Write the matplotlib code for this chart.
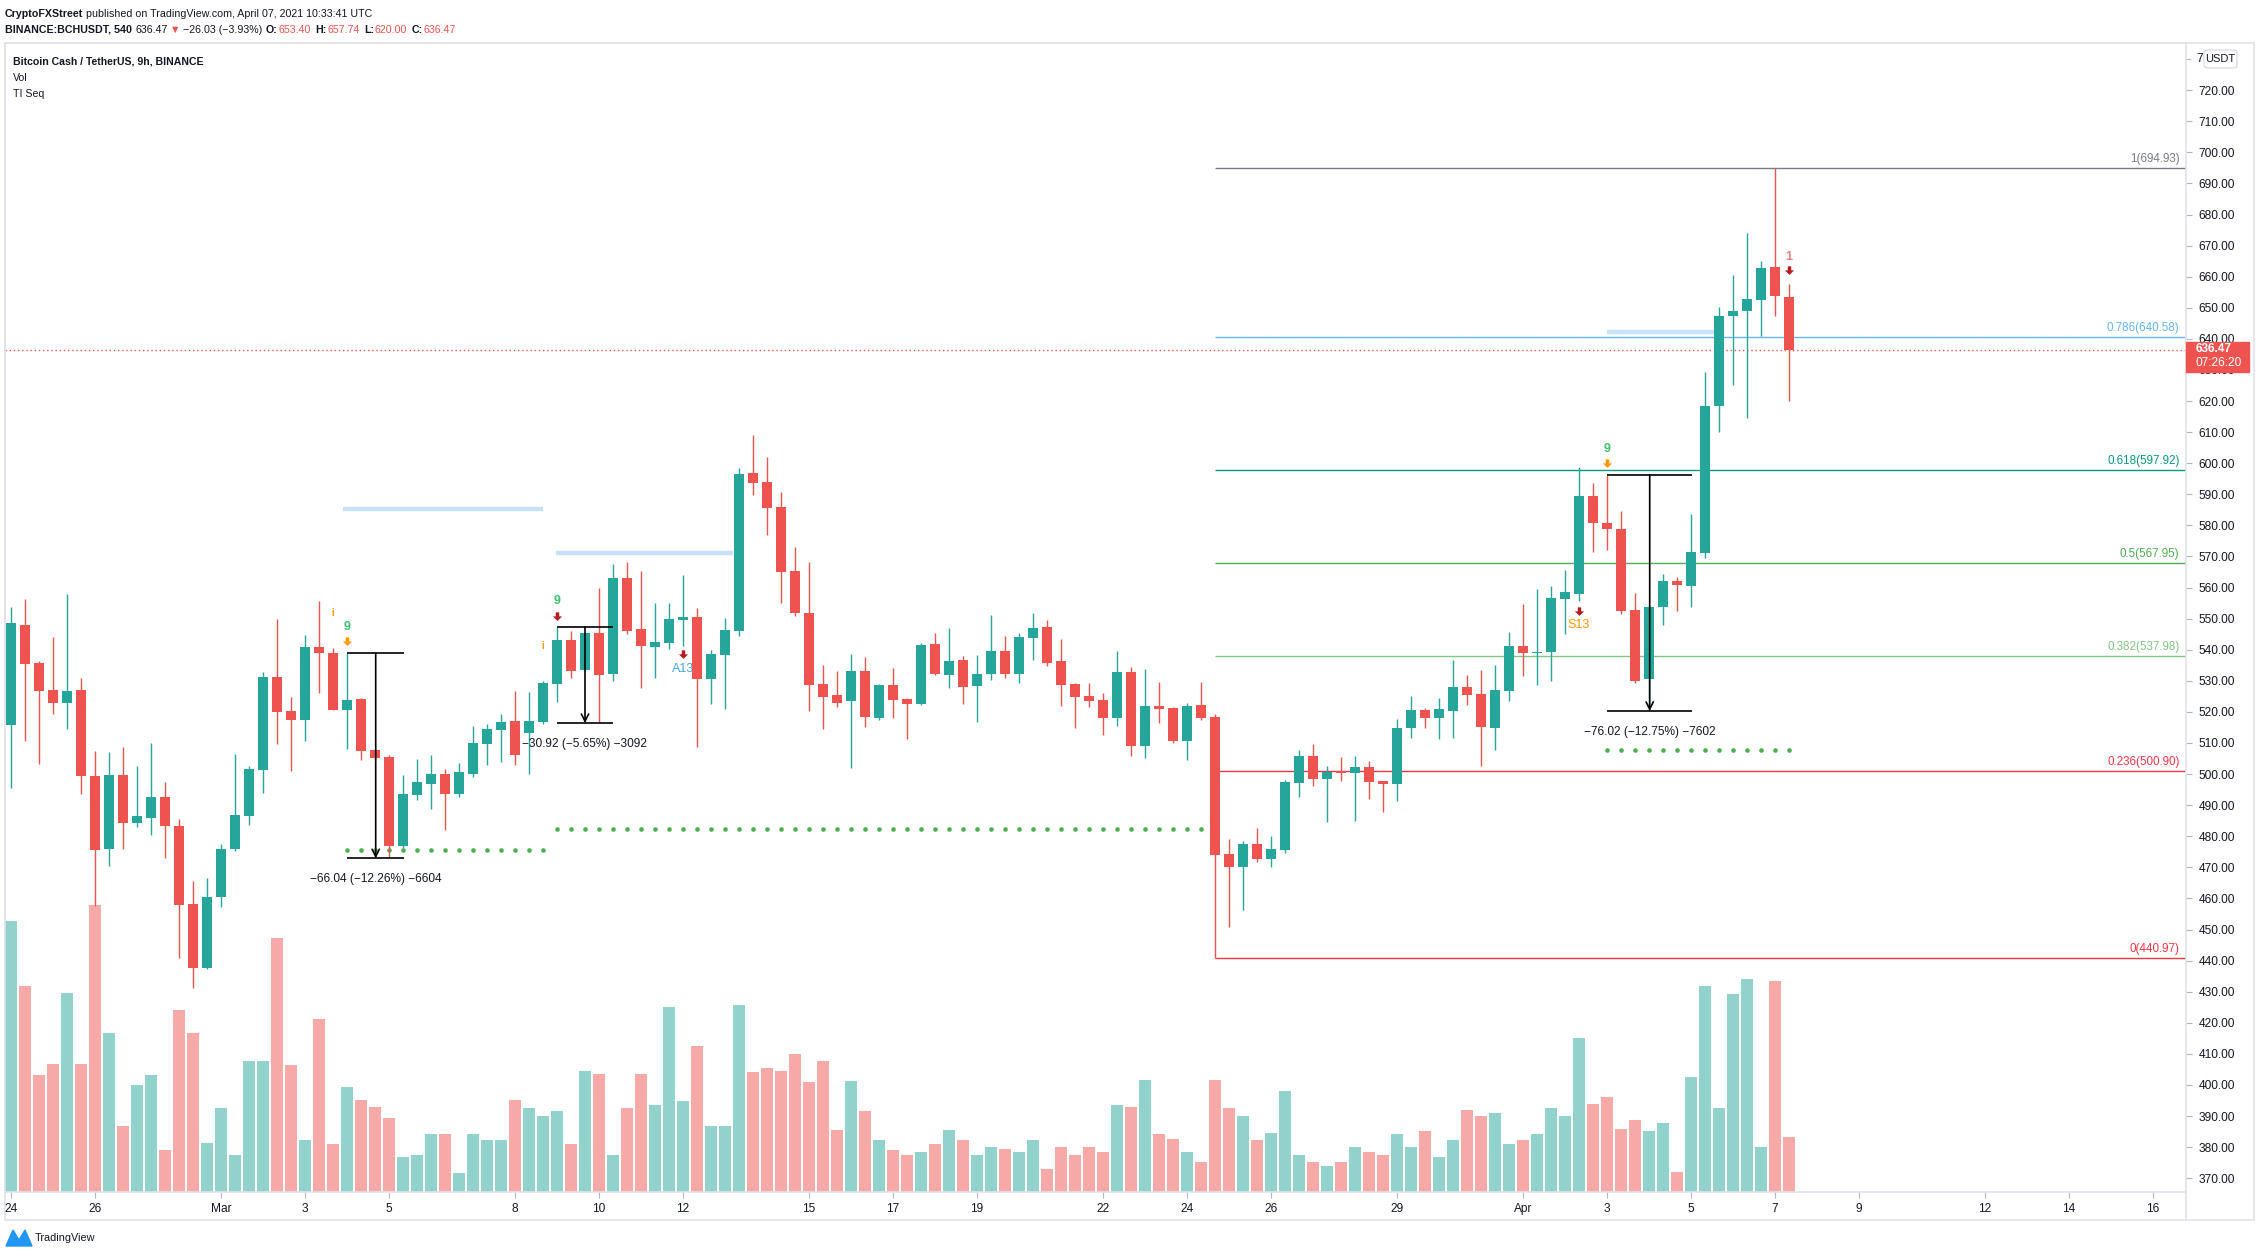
import numpy as np
import matplotlib
matplotlib.use("Agg")
import matplotlib.pyplot as plt
from matplotlib.patches import Rectangle, FancyBboxPatch, Polygon
from matplotlib.lines import Line2D
from matplotlib.path import Path
from matplotlib.transforms import blended_transform_factory

plt.rcParams['font.family'] = ['Liberation Sans', 'DejaVu Sans']

W, H = 2261, 1257

# BCHUSDT 9h bars, Feb 24 00:00 -> Apr 7 09:00 (3 bars per day)
opens = [515.8, 548.0, 535.8, 527.1, 523.0, 527.1, 499.4, 476.0, 499.7, 484.4,
         486.0, 492.6, 483.3, 458.2, 437.7, 460.3, 475.9, 486.6, 501.3, 531.2,
         520.3, 517.4, 540.9, 539.0, 520.6, 524.2, 507.7, 505.5, 476.9, 493.3,
         496.8, 500.0, 493.6, 500.0, 509.8, 514.2, 517.1, 513.2, 516.8, 529.0,
         543.1, 533.6, 545.4, 532.2, 563.1, 546.7, 540.9, 542.2, 549.6, 550.5,
         530.6, 538.3, 546.0, 596.9, 594.0, 585.9, 565.4, 551.8, 529.0, 525.4,
         523.5, 533.2, 518.0, 528.7, 524.2, 522.6, 541.9, 531.9, 536.7, 528.3,
         532.2, 539.6, 532.2, 543.8, 547.3, 536.4, 529.0, 525.1, 523.8, 518.1,
         532.9, 509.1, 521.9, 521.3, 510.7, 522.2, 518.4, 474.3, 470.1, 477.5,
         472.7, 475.6, 497.1, 505.8, 498.4, 501.0, 500.4, 502.3, 497.8, 496.8,
         514.8, 520.6, 518.1, 520.3, 527.9, 525.9, 514.7, 526.7, 541.2, 538.8,
         539.2, 556.4, 558.0, 589.5, 580.7, 579.0, 552.8, 530.6, 553.6, 562.0,
         560.6, 571.0, 618.3, 647.4, 648.9, 652.4, 663.2, 653.40]
highs = [553.9, 556.3, 536.5, 544.1, 558.0, 530.9, 507.4, 507.1, 508.7, 502.6,
         510.0, 497.5, 485.5, 465.6, 466.6, 477.5, 506.5, 502.6, 532.9, 549.9,
         524.8, 544.8, 555.7, 540.6, 539.0, 524.5, 507.8, 506.1, 499.7, 504.9,
         506.2, 501.6, 503.7, 515.5, 516.1, 519.3, 526.7, 526.4, 529.9, 547.3,
         546.0, 545.4, 559.9, 567.6, 568.2, 565.3, 555.0, 555.0, 564.1, 553.4,
         539.9, 550.2, 598.5, 609.1, 602.0, 590.8, 573.1, 568.2, 535.1, 533.2,
         538.6, 537.7, 529.0, 534.1, 524.5, 542.2, 545.4, 547.0, 538.0, 538.3,
         551.2, 544.4, 545.4, 551.8, 549.6, 543.5, 529.3, 529.3, 526.1, 539.6,
         534.5, 533.8, 529.6, 521.6, 522.9, 529.6, 519.3, 479.1, 478.5, 482.7,
         480.1, 498.1, 507.8, 509.7, 502.6, 505.5, 505.8, 504.2, 497.8, 517.7,
         525.1, 521.3, 524.5, 536.8, 531.9, 533.5, 535.2, 545.6, 554.8, 559.5,
         560.4, 565.8, 598.7, 593.5, 596.3, 584.5, 558.2, 554.5, 564.5, 563.4,
         583.6, 629.4, 650.4, 660.7, 674.1, 665.2, 694.93, 657.74]
lows = [495.4, 510.6, 503.2, 519.3, 514.5, 493.7, 457.4, 470.4, 476.0, 483.0,
        480.4, 473.1, 440.9, 431.3, 437.2, 457.3, 475.4, 483.6, 494.0, 509.8,
        501.0, 510.6, 526.2, 520.6, 508.1, 504.5, 504.5, 473.1, 476.1, 491.8,
        488.8, 482.1, 492.7, 499.0, 503.0, 503.9, 503.0, 500.0, 516.1, 523.2,
        530.9, 533.6, 516.8, 530.0, 545.1, 527.7, 530.9, 540.2, 541.2, 508.7,
        522.5, 520.9, 544.4, 589.8, 576.9, 555.1, 550.9, 520.3, 514.5, 521.6,
        502.0, 515.2, 517.4, 518.0, 511.3, 522.3, 531.9, 527.7, 522.6, 516.8,
        530.3, 530.9, 529.3, 536.7, 534.8, 521.9, 514.8, 521.6, 512.6, 515.5,
        505.8, 505.2, 516.5, 510.0, 504.5, 517.4, 440.97, 450.8, 456.3, 471.7,
        470.1, 474.6, 492.6, 496.2, 484.6, 497.8, 484.9, 492.0, 487.8, 491.3,
        511.6, 514.8, 511.3, 511.5, 522.3, 502.7, 507.9, 523.5, 531.6, 528.5,
        530.1, 545.2, 555.6, 571.4, 572.2, 551.4, 529.3, 520.3, 548.1, 552.6,
        553.6, 569.4, 609.9, 625.2, 614.6, 640.9, 647.3, 620.00]
closes = [548.7, 535.4, 526.8, 523.0, 526.7, 499.4, 475.6, 499.7, 484.4, 486.5,
          492.6, 483.3, 457.9, 437.7, 460.5, 475.9, 486.8, 501.6, 531.2, 520.1,
          517.4, 540.9, 539.0, 520.6, 523.8, 507.4, 505.3, 476.9, 493.6, 497.5,
          500.0, 493.6, 500.7, 510.0, 514.5, 516.8, 506.1, 517.1, 529.3, 543.1,
          533.3, 545.4, 531.9, 563.1, 546.0, 541.2, 542.5, 549.9, 550.5, 530.6,
          538.6, 546.4, 596.6, 593.7, 585.6, 565.0, 551.8, 528.7, 524.8, 522.9,
          533.2, 518.4, 528.7, 523.9, 522.6, 541.5, 532.2, 536.4, 528.0, 532.2,
          539.6, 532.2, 544.1, 547.0, 535.7, 528.7, 524.8, 523.5, 518.1, 532.9,
          509.1, 521.9, 521.0, 510.7, 521.9, 518.1, 474.0, 470.1, 477.5, 472.7,
          475.9, 497.5, 505.8, 498.4, 500.7, 500.4, 502.3, 497.5, 496.8, 514.8,
          520.6, 518.1, 521.0, 527.9, 525.5, 515.1, 527.1, 541.2, 538.8, 539.2,
          556.8, 558.5, 589.5, 580.7, 578.7, 552.6, 530.1, 553.9, 562.2, 560.7,
          571.6, 618.4, 647.4, 649.0, 652.9, 662.9, 653.7, 636.47]
# relative volume (read as bar heights)
volumes = [271, 206, 117, 128, 199, 128, 287, 159, 66, 107,
           117, 42, 182, 159, 49, 84, 37, 131, 131, 254,
           127, 52, 173, 48, 105, 92, 85, 74, 35, 37,
           58, 58, 19, 58, 52, 52, 92, 84, 76, 81,
           48, 121, 118, 37, 84, 118, 87, 185, 91, 146,
           66, 66, 187, 120, 124, 121, 138, 110, 131, 62,
           111, 81, 52, 42, 37, 40, 48, 62, 52, 37,
           45, 43, 40, 52, 23, 45, 37, 45, 40, 87,
           85, 112, 58, 53, 40, 30, 112, 84, 76, 52,
           59, 101, 37, 30, 26, 30, 45, 40, 37, 58,
           45, 61, 35, 52, 82, 76, 79, 48, 52, 58,
           84, 76, 154, 88, 95, 63, 72, 61, 69, 20,
           115, 206, 84, 198, 213, 45, 211, 55]

day_ticks = [0, 6, 15, 21, 27, 36, 42, 48, 57, 63, 69, 78, 84, 90, 99, 108,
             114, 120, 126, 132, 141, 147, 153]
day_labels = ['24', '26', 'Mar', '3', '5', '8', '10', '12', '15', '17', '19', '22',
              '24', '26', '29', 'Apr', '3', '5', '7', '9', '12', '14', '16']
price_ticks = list(range(370, 721, 10))

fib_low, fib_high = 440.97, 694.93
fib_levels = [1, 0.786, 0.618, 0.5, 0.382, 0.236, 0]
fib_colors = ['#787b86', '#64b5f6', '#089981', '#4caf50', '#81c784', '#f23645', '#f23645']
fib_start = 86

# TD sequential bits
td_lines = [(23.7, 38.0, 585.4), (38.9, 51.6, 571.0), (114.0, 121.7, 642.1)]
td_dots = [(24, 38, 475.5), (39, 85, 482.2), (114, 127, 507.9)]
measures = [(24, 28.1, 538.9, 472.9, '\u221266.04 (\u221212.26%) \u22126604'),
            (39, 43.0, 547.3, 516.4, '\u221230.92 (\u22125.65%) \u22123092'),
            (114, 120.1, 596.3, 520.3, '\u221276.02 (\u221212.75%) \u22127602')]
arrows = [(24, 542.4, '#ff9800'), (39, 550.6, '#b71c1c'), (48, 538.3, '#b71c1c'),
          (112, 552.2, '#b71c1c'), (114, 599.9, '#ff9800'), (127, 661.7, '#b71c1c')]
labels = [(23, 551.9, 'i', '#ff9800', 7), (24, 547.2, '9', '#3cc36a', 9),
          (38, 541.1, 'i', '#ff9800', 7), (39, 555.7, '9', '#3cc36a', 9),
          (48, 533.7, 'A13', '#42a5f5', 9), (112, 547.9, 'S13', '#ff9800', 9),
          (114, 604.6, '9', '#3cc36a', 9), (127, 666.3, '1', '#f07f86', 9)]

last_price = 636.47

GREEN, RED = '#26a69a', '#ef5350'
VGREEN, VRED = '#92d2cc', '#f7a9a7'
TXT = '#131722'
FRAME = '#e0e3eb'


def fx(x):
    return x / W


def fy(y):
    return 1 - y / H


fig = plt.figure(figsize=(W / 100, H / 100), dpi=100)
fig.patch.set_facecolor('white')

rect = [fx(5), fy(1192), (2186 - 5) / W, (1192 - 43) / H]
ax_v = fig.add_axes(rect)
ax = fig.add_axes(rect)
ax_v.set_zorder(1)
ax.set_zorder(2)
ax.patch.set_visible(False)

xlim = ((5 - 11) / 14, (2186 - 11) / 14)
ylim = (365.55, 735.2)

idx = np.arange(len(opens))
o, h, l, c = map(np.array, (opens, highs, lows, closes))
up = c >= o

# volume
ax_v.bar(idx, volumes, width=0.86, color=np.where(up, VGREEN, VRED), linewidth=0)
ax_v.set_xlim(*xlim)
ax_v.set_ylim(0, 1149)
ax_v.axis('off')

# candles
cols = np.where(up, GREEN, RED)
ax.vlines(idx, l, h, colors=cols, lw=1.0, zorder=4)
ax.bar(idx, np.maximum(np.abs(c - o), 0.4), bottom=np.minimum(o, c), width=0.78,
       color=cols, linewidth=0, zorder=5)

# fib retracement
tr = blended_transform_factory(ax.transAxes, ax.transData)
for lev, col in zip(fib_levels, fib_colors):
    p = fib_low + (fib_high - fib_low) * lev
    ax.hlines(p, fib_start, xlim[1], colors=col, lw=1.0, zorder=2)
    ax.annotate('%s(%.2f)' % (('%g' % lev), p), xy=(0.997, p), xycoords=tr,
                xytext=(0, 2), textcoords='offset points', ha='right', va='bottom',
                color=col, fontsize=8.4, zorder=6)

# last price line
ax.axhline(last_price, color=RED, lw=1.0, ls=(0, (1, 2)), zorder=2)

# TD lines and dots
for x0, x1, p in td_lines:
    ax.hlines(p, x0, x1, colors='#c5e1fb', lw=3.2, zorder=3)
for i0, i1, p in td_dots:
    xs = np.arange(i0, i1 + 1)
    ax.scatter(xs, np.full(len(xs), p), s=11, color='#4caf50', zorder=3, linewidths=0)

# measure tools
for x0, x1, top, bot, txt in measures:
    xm = (x0 + x1) / 2
    ax.hlines([top, bot], x0, x1, colors='black', lw=1.2, zorder=6)
    ax.annotate('', xy=(xm, bot), xytext=(xm, top),
                arrowprops=dict(arrowstyle='->', color='black', lw=1.2,
                                shrinkA=0, shrinkB=0, mutation_scale=13), zorder=6)
    ax.text(xm, bot - 6.8, txt, ha='center', va='center', fontsize=8.6, color=TXT, zorder=6)

# TD markers
arrow_path = Path([(-0.3, 0.9), (0.3, 0.9), (0.3, 0.2), (0.8, 0.2), (0, -0.6),
                   (-0.8, 0.2), (-0.3, 0.2), (-0.3, 0.9)],
                  [Path.MOVETO] + [Path.LINETO] * 6 + [Path.CLOSEPOLY])
for i, p, col in arrows:
    ax.scatter([i], [p], marker=arrow_path, s=55, color=col, zorder=6, linewidths=0)
for i, p, s, col, fs in labels:
    ax.text(i, p, s, ha='center', va='center', color=col, fontsize=fs,
            fontweight='bold' if s in ('9', 'i', '1') else 'normal', zorder=3.5)

ax.set_xlim(*xlim)
ax.set_ylim(*ylim)

ax.yaxis.tick_right()
ax.set_yticks(price_ticks)
ax.set_yticklabels(['%.2f' % v for v in price_ticks])
ax.tick_params(axis='y', length=4, width=0.8, color='#b2b5be', labelsize=8.6,
               labelcolor=TXT, pad=5)
ax.set_xticks(day_ticks)
ax.set_xticklabels(day_labels)
ax.tick_params(axis='x', length=4, width=0.8, color='#b2b5be', labelsize=8.6,
               labelcolor=TXT, pad=4)
for sp in ax.spines.values():
    sp.set_color(FRAME)
    sp.set_linewidth(1.2)

# outer frame of the chart widget
fig.add_artist(Rectangle((fx(5), fy(1220)), (2254 - 5) / W, (1220 - 43) / H,
                         transform=fig.transFigure, fill=False, edgecolor=FRAME,
                         lw=1.2, zorder=0.5))
fig.add_artist(Line2D([fx(2186), fx(2186)], [fy(1192), fy(1220)],
                      transform=fig.transFigure, color=FRAME, lw=1.2))

fig.canvas.draw()

# top tick (730) mostly hidden behind the currency box
y730 = ax.transData.transform((0, 730))[1]
fig.add_artist(Line2D([fx(2186), fx(2190)], [y730 / H, y730 / H],
                      transform=fig.transFigure, color='#b2b5be', lw=0.8))
fig.text(fx(2196), y730 / H, '7', fontsize=8.6, color=TXT, va='center', ha='left')

# last price badge on the axis
yp = ax.transData.transform((0, last_price))[1]
fig.add_artist(Rectangle((fx(2186), (yp - 22) / H), 63 / W, 30 / H,
                         transform=fig.transFigure, color=RED, zorder=10))
fig.text(fx(2196), (yp + 0.5) / H, '%.2f' % last_price, color='white', fontsize=8.6,
         fontweight='bold', va='center', ha='left', zorder=11)
fig.text(fx(2196), (yp - 13) / H, '07:26:20', color='white', fontsize=8.6,
         va='center', ha='left', zorder=11)

# currency box
fig.add_artist(FancyBboxPatch((fx(2204), fy(68)), 33 / W, 18 / H,
                              boxstyle='round,pad=0,rounding_size=0.002',
                              transform=fig.transFigure, facecolor='white',
                              edgecolor='#d1d4dc', lw=0.8, zorder=10))
fig.text(fx(2220.5), fy(59), 'USDT', fontsize=8, color=TXT, ha='center',
         va='center', zorder=11)

# legend inside the pane
fig.text(fx(13), fy(61), 'Bitcoin Cash / TetherUS, 9h, BINANCE', fontsize=7.6,
         fontweight='bold', color=TXT, va='center')
fig.text(fx(13), fy(78), 'Vol', fontsize=7.6, color=TXT, va='center')
fig.text(fx(13), fy(94), 'TI Seq', fontsize=7.6, color=TXT, va='center')


def draw_runs(x, y, runs, size):
    renderer = fig.canvas.get_renderer()
    for s, color, bold, gap in runs:
        t = fig.text(fx(x), fy(y), s, color=color, fontsize=size,
                     fontweight='bold' if bold else 'normal', va='center', ha='left')
        x += t.get_window_extent(renderer).width + gap


draw_runs(5, 14, [('CryptoFXStreet', TXT, True, 3),
                  ('published on TradingView.com, April 07, 2021 10:33:41 UTC', TXT, False, 0)], 7.7)
draw_runs(5, 30, [('BINANCE:BCHUSDT, 540', TXT, True, 4), ('636.47', TXT, False, 1),
                  ('\u25bc', RED, False, 3), ('\u221226.03 (\u22123.93%)', TXT, False, 4),
                  ('O:', TXT, True, 1), ('653.40', RED, False, 4),
                  ('H:', TXT, True, 1), ('657.74', RED, False, 4),
                  ('L:', TXT, True, 1), ('620.00', RED, False, 4),
                  ('C:', TXT, True, 1), ('636.47', RED, False, 0)], 7.7)

# TradingView mark
fig.add_artist(Polygon([(fx(6), fy(1246)), (fx(13), fy(1230)), (fx(19), fy(1240)),
                        (fx(25), fy(1230)), (fx(32), fy(1246))],
                       closed=True, transform=fig.transFigure, color='#2196f3'))
fig.text(fx(35), fy(1238), 'TradingView', fontsize=7.8, color='#131722', va='center')

fig.savefig('out.png', dpi=100)
